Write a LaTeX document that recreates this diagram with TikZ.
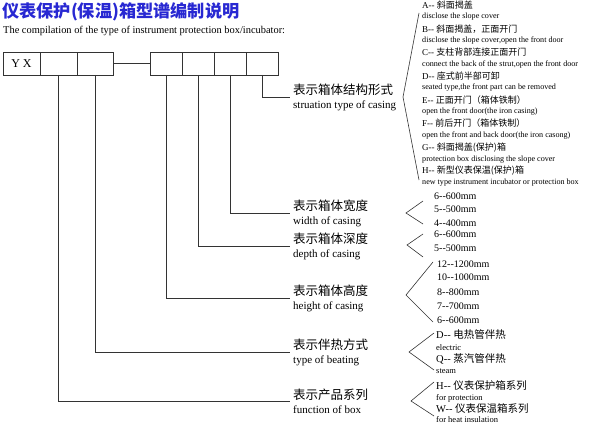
\documentclass[tikz,border=0pt]{standalone}
\usepackage{fontspec}
\setmainfont{Liberation Serif}
\newfontfamily\cjkfont{Noto Sans CJK SC}
\newcommand{\zh}[1]{{\cjkfont #1}}
\usetikzlibrary{positioning}
\definecolor{titleblue}{RGB}{40,40,210}

\begin{document}
\begin{tikzpicture}[x=1pt, y=-1pt, node distance=0pt,
cell/.style={rectangle, draw=black!80, line width=0.7pt, minimum height=23pt, inner sep=0pt, outer sep=0pt},
lbl/.style={anchor=west, align=left, inner xsep=3pt, inner ysep=0pt, font=\fontsize{11}{14}\selectfont},
opt/.style={anchor=west, inner sep=0pt, font=\fontsize{#1}{#1}\selectfont},
lead/.style={draw=black!80, line width=0.7pt},
brace/.style={draw=black!80, line width=0.6pt}]

\useasboundingbox (0,0) rectangle (591,425);

\node (title) [anchor=west, inner sep=0pt, text=titleblue, font=\fontsize{17.2}{17.2}\selectfont\cjkfont\bfseries] at (2,12) {仪表保护(保温)箱型谱编制说明};
\node (sub) [anchor=west, inner sep=0pt, font=\fontsize{10.4}{10.4}\selectfont] at (3,31) {The compilation of the type of instrument protection box/incubator:};

% code boxes
\node (yx) [cell, minimum width=37pt, font=\fontsize{12}{12}\selectfont] at (21.5,63.5) {Y X};
\node (b2) [cell, minimum width=37pt, right = of yx] {};
\node (b3) [cell, minimum width=36pt, right = of b2] {};
\node (r1) [cell, minimum width=32pt, right = 37pt of b3] {};
\node (r2) [cell, minimum width=32pt, right = of r1] {};
\node (r3) [cell, minimum width=32pt, right = of r2] {};
\node (r4) [cell, minimum width=32pt, right = of r3] {};
\draw[lead] (b3) -- (r1);

% meanings
\node (lstruct) [lbl] at (290,97) {\zh{\fontsize{12.5}{14}\selectfont 表示箱体结构形式}\\struation type of casing};
\node (lwidth) [lbl] at (290,213) {\zh{\fontsize{12.5}{14}\selectfont 表示箱体宽度}\\width of casing};
\node (ldepth) [lbl] at (290,246) {\zh{\fontsize{12.5}{14}\selectfont 表示箱体深度}\\depth of casing};
\node (lheight) [lbl] at (290,298) {\zh{\fontsize{12.5}{14}\selectfont 表示箱体高度}\\height of casing};
\node (lheat) [lbl] at (290,352) {\zh{\fontsize{12.5}{14}\selectfont 表示伴热方式}\\type of beating};
\node (lfunc) [lbl] at (290,401) {\zh{\fontsize{12.5}{14}\selectfont 表示产品系列}\\function of box};

\draw[lead] (r4.south) |- (lstruct.west);
\draw[lead] (r3.south) |- (lwidth.west);
\draw[lead] (r2.south) |- (ldepth.west);
\draw[lead] (r1.south) |- (lheight.west);
\draw[lead] (b3.south) |- (lheat.west);
\draw[lead] (b2.south) |- (lfunc.west);

% structure types
\node (sA) [opt=9] at (422,5) {A-{}- \zh{斜面揭盖}};
\node (sAe) [opt=8.1] at (422,16.9) {disclose the slope cover};
\node (sB) [opt=9] at (422,28.7) {B-{}- \zh{斜面揭盖，正面开门}};
\node (sBe) [opt=8.1] at (422,40.6) {disclose the slope cover,open the front door};
\node (sC) [opt=9] at (422,52.4) {C-{}- \zh{支柱背部连接正面开门}};
\node (sCe) [opt=8.1] at (422,64.3) {connect the back of the strut,open the front door};
\node (sD) [opt=9] at (422,76.1) {D-{}- \zh{座式前半部可卸}};
\node (sDe) [opt=8.1] at (422,88) {seated type,the front part can be removed};
\node (sE) [opt=9] at (422,99.8) {E-{}- \zh{正面开门（箱体铁制）}};
\node (sEe) [opt=8.1] at (422,111.7) {open the front door(the iron casing)};
\node (sF) [opt=9] at (422,123.5) {F-{}- \zh{前后开门（箱体铁制）}};
\node (sFe) [opt=8.1] at (422,135.4) {open the front and back door(the iron casong)};
\node (sG) [opt=9] at (422,147.2) {G-{}- \zh{斜面揭盖(保护)箱}};
\node (sGe) [opt=8.1] at (422,159.1) {protection box disclosing the slope cover};
\node (sH) [opt=9] at (422,170.9) {H-{}- \zh{新型仪表保温(保护)箱}};
\node (sHe) [opt=8.1] at (422,182.8) {new type instrument incubator or protection box};

% sizes
\node (w6) [opt=10] at (434,196) {6-{}-600mm};
\node (w5) [opt=10] at (434,209.5) {5-{}-500mm};
\node (w4) [opt=10] at (434,223) {4-{}-400mm};
\node (d6) [opt=10] at (434,234.5) {6-{}-600mm};
\node (d5) [opt=10] at (434,248) {5-{}-500mm};
\node (h12) [opt=10] at (437,264) {12-{}-1200mm};
\node (h10) [opt=10] at (437,277.5) {10-{}-1000mm};
\node (h8) [opt=10] at (437,292) {8-{}-800mm};
\node (h7) [opt=10] at (437,306) {7-{}-700mm};
\node (h6) [opt=10] at (437,320) {6-{}-600mm};

% heating and series
\node (tD) [opt=10.5] at (436,335) {D-{}- \zh{电热管伴热}};
\node (tDe) [opt=8.5] at (436,347.5) {electric};
\node (tQ) [opt=10.5] at (436,359) {Q-{}- \zh{蒸汽管伴热}};
\node (tQe) [opt=8.5] at (436,371) {steam};
\node (fH) [opt=10.5] at (436,386) {H-{}- \zh{仪表保护箱系列}};
\node (fHe) [opt=8.5] at (436,398) {for protection};
\node (fW) [opt=10.5] at (436,409) {W-{}- \zh{仪表保温箱系列}};
\node (fWe) [opt=8.5] at (436,420) {for heat insulation};

% brackets
\coordinate (stT) at (419,13);  \coordinate (stM) at (403,97);  \coordinate (stB) at (419,180);
\coordinate (wdT) at (423,201); \coordinate (wdM) at (406,213); \coordinate (wdB) at (423,224);
\coordinate (dpT) at (423,234); \coordinate (dpM) at (407,245); \coordinate (dpB) at (423,257);
\coordinate (htT) at (433,262); \coordinate (htM) at (406,295); \coordinate (htB) at (433,322);
\coordinate (hbT) at (434,333); \coordinate (hbM) at (409,352); \coordinate (hbB) at (434,370);
\coordinate (fnT) at (434,382); \coordinate (fnM) at (411,401); \coordinate (fnB) at (434,416);
\draw[brace] (stT) -- (stM) -- (stB);
\draw[brace] (wdT) -- (wdM) -- (wdB);
\draw[brace] (dpT) -- (dpM) -- (dpB);
\draw[brace] (htT) -- (htM) -- (htB);
\draw[brace] (hbT) -- (hbM) -- (hbB);
\draw[brace] (fnT) -- (fnM) -- (fnB);
\end{tikzpicture}
\end{document}
